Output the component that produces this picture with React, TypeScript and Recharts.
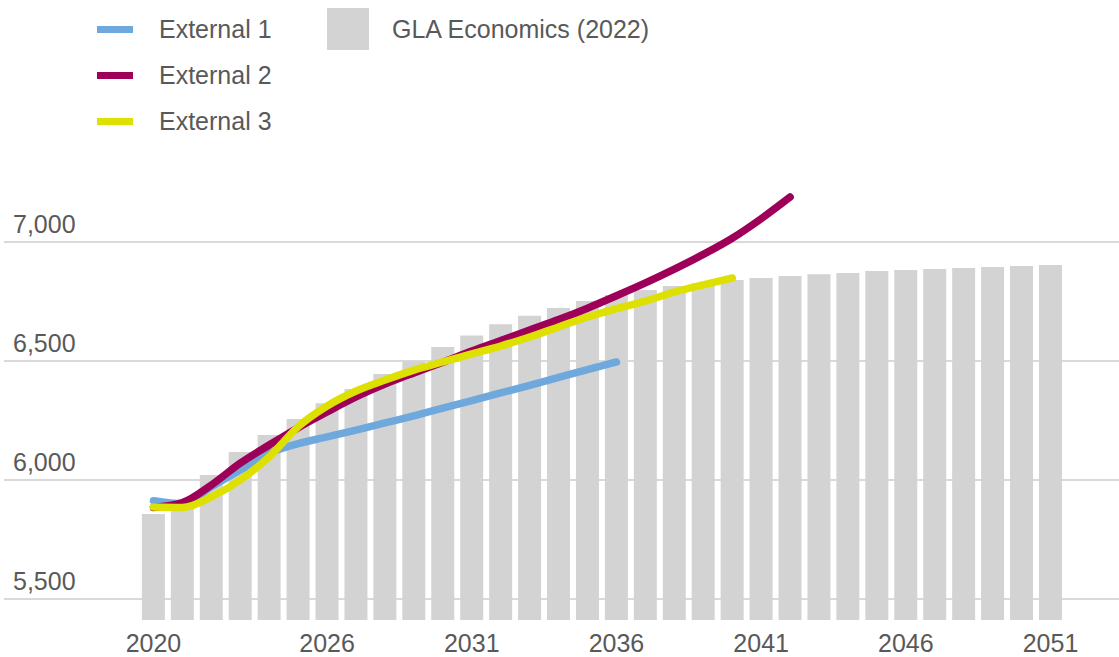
import { ComposedChart, Bar, Line, XAxis, YAxis, CartesianGrid } from 'recharts';

const years = [
    '2020', '2021', '2022', '2023', '2024', '2025', '2026', '2027', '2028', '2029', '2030',
    '2031', '2032', '2033', '2034', '2035', '2036', '2037', '2038', '2039', '2040', '2041',
    '2042', '2043', '2044', '2045', '2046', '2047', '2048', '2049', '2050', '2051',
];

// GLA Economics (2022) projection, bars
const gla = [
    5857, 5900, 6021, 6118, 6189, 6256, 6323, 6382, 6445, 6498, 6559,
    6607, 6655, 6690, 6723, 6752, 6777, 6798, 6815, 6828, 6840, 6849,
    6857, 6865, 6870, 6878, 6882, 6887, 6891, 6895, 6899, 6903,
];

// external projections, lines (from 2020)
const external1 = [5913, 5900, 5972, 6042, 6113, 6153, 6181, 6210, 6240, 6270, 6302, 6334, 6366, 6398, 6431, 6464, 6496];
const external2 = [
    5885, 5905, 5979, 6071, 6147, 6220, 6286, 6349, 6403, 6450, 6495, 6542,
    6586, 6630, 6674, 6722, 6774, 6828, 6886, 6948, 7016, 7098, 7189,
];
const external3 = [
    5887, 5885, 5929, 6000, 6098, 6224, 6311, 6374, 6420, 6462, 6496,
    6530, 6563, 6601, 6643, 6685, 6720, 6752, 6790, 6820, 6849,
];

const xTicks = ['2020', '2026', '2031', '2036', '2041', '2046', '2051'];
const yTicks = [5500, 6000, 6500, 7000];

const data = years.map((year, i) => ({
    year,
    gla: gla[i],
    ext1: external1[i] ?? null,
    ext2: external2[i] ?? null,
    ext3: external3[i] ?? null,
}));

const TEXT = '#595959';
const FONT = '"Liberation Sans", Arial, Helvetica, sans-serif';
const BLUE = '#6fa8dc';
const PLUM = '#9e0059';
const YELLOW = '#dde000';
const GREY = '#d3d3d3';

const renderYTick = ({ y, payload }: any) => (
    <text x={13} y={y - 9} fill={TEXT} fontSize={25} fontFamily={FONT}>
        {Number(payload.value).toLocaleString('en-US')}
    </text>
);

const renderXTick = ({ x, y, payload }: any) => (
    <text x={x} y={y} dy="0.71em" textAnchor="middle" fill={TEXT} fontSize={25} fontFamily={FONT}>
        {payload.value}
    </text>
);

const lineItems = [
    { label: 'External 1', color: BLUE },
    { label: 'External 2', color: PLUM },
    { label: 'External 3', color: YELLOW },
];

function ChartLegend() {
    return (
        <div style={{ position: 'absolute', left: 0, top: 0, fontFamily: FONT, fontSize: 25, color: TEXT }}>
            {lineItems.map((item, i) => (
                <div key={item.label} style={{ position: 'absolute', left: 97, top: 9 + i * 46, height: 40, display: 'flex', alignItems: 'center', whiteSpace: 'nowrap' }}>
                    <span style={{ width: 36, height: 7, background: item.color, display: 'inline-block', marginRight: 26 }} />
                    {item.label}
                </div>
            ))}
            <div style={{ position: 'absolute', left: 327, top: 8, height: 42, display: 'flex', alignItems: 'center', whiteSpace: 'nowrap' }}>
                <span style={{ width: 42, height: 42, background: GREY, display: 'inline-block', marginRight: 23 }} />
                GLA Economics (2022)
            </div>
        </div>
    );
}

export default function App() {
    return (
        <div style={{ position: 'absolute', left: 0, top: 0, width: 1119, height: 657, background: '#fff' }}>
            <ComposedChart width={1119} height={657} data={data} margin={{ top: 123, right: 0, left: 3, bottom: 0 }} barCategoryGap="10%">
                <CartesianGrid vertical={false} stroke="#d9d9d9" strokeWidth={2} syncWithTicks />
                <XAxis
                    dataKey="year"
                    ticks={xTicks}
                    interval={0}
                    tick={renderXTick}
                    tickSize={0}
                    tickMargin={14}
                    axisLine={false}
                    tickLine={false}
                    height={37}
                    padding={{ left: 135, right: 54 }}
                />
                <YAxis
                    domain={[5412, 7500]}
                    ticks={yTicks}
                    interval={0}
                    tick={renderYTick}
                    axisLine={false}
                    tickLine={false}
                    width={1}
                />
                <Bar dataKey="gla" fill={GREY} isAnimationActive={false} />
                <Line type="monotone" dataKey="ext1" stroke={BLUE} strokeWidth={7.5} strokeLinecap="round" dot={false} activeDot={false} isAnimationActive={false} />
                <Line type="monotone" dataKey="ext2" stroke={PLUM} strokeWidth={7.5} strokeLinecap="round" dot={false} activeDot={false} isAnimationActive={false} />
                <Line type="monotone" dataKey="ext3" stroke={YELLOW} strokeWidth={7.5} strokeLinecap="round" dot={false} activeDot={false} isAnimationActive={false} />
            </ComposedChart>
            <ChartLegend />
        </div>
    );
}
